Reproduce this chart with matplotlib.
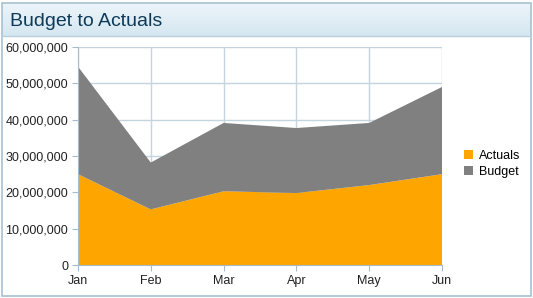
import numpy as np
import matplotlib
matplotlib.use("Agg")
import matplotlib.pyplot as plt
from matplotlib.patches import Rectangle
from matplotlib.ticker import FuncFormatter
from matplotlib.colors import LinearSegmentedColormap

plt.rcParams['font.family'] = ['Liberation Sans', 'DejaVu Sans']

months = ["Jan", "Feb", "Mar", "Apr", "May", "Jun"]
actuals = [25000000, 15300000, 20300000, 19800000, 22000000, 25000000]
budget = [29600000, 12900000, 18800000, 17900000, 17100000, 24000000]

fig = plt.figure(figsize=(5.33, 2.98), dpi=100)
fig.patch.set_facecolor("white")

# title bar with gradient
bar = fig.add_axes([0.004, 0.879, 0.992, 0.111])
grad = np.linspace(0, 1, 50).reshape(-1, 1)
cmap = LinearSegmentedColormap.from_list("tb", ["#edf5fa", "#d5e7f1"])
bar.imshow(grad, aspect="auto", cmap=cmap, extent=[0, 1, 0, 1])
bar.set_xlim(0, 1)
bar.set_ylim(0, 1)
bar.axis("off")
bar.text(0.014, 0.45, "Budget to Actuals", fontsize=14, color="#0d3a58",
         va="center", ha="left")

# outer border
fig.patches.append(Rectangle((0.004, 0.006), 0.992, 0.984, transform=fig.transFigure,
                             fill=False, edgecolor="#a6c2d2", linewidth=1.2))
fig.lines.append(plt.Line2D([0.004, 0.996], [0.879, 0.879], transform=fig.transFigure,
                            color="#b8d0de", linewidth=1))

ax = fig.add_axes([0.1463, 0.1107, 0.6830, 0.7316])
x = np.arange(len(months))
ax.stackplot(x, actuals, budget, colors=["#FFA500", "#808080"],
             labels=["Actuals", "Budget"], zorder=2)
ax.set_xlim(0, len(months) - 1)
ax.set_ylim(0, 60000000)
ax.set_xticks(x)
ax.set_xticklabels(months)
ax.set_yticks(np.arange(0, 60000001, 10000000))
ax.yaxis.set_major_formatter(FuncFormatter(lambda v, p: f"{int(v):,}"))
ax.grid(True, color="#c5d5df", linewidth=1, zorder=0)
ax.set_axisbelow(True)
for s in ["top", "right"]:
    ax.spines[s].set_visible(False)
for s in ["left", "bottom"]:
    ax.spines[s].set_color("#a6bccb")
ax.tick_params(axis="both", colors="#a6bccb", labelcolor="#222222", labelsize=9,
               length=4)
ax.tick_params(axis="y", pad=3)

leg = ax.legend(loc="center left", bbox_to_anchor=(1.03, 0.465), frameon=False,
                fontsize=9, handlelength=0.7, handleheight=0.7, handletextpad=0.5,
                labelspacing=0.3)

fig.savefig("out.png", dpi=100)
